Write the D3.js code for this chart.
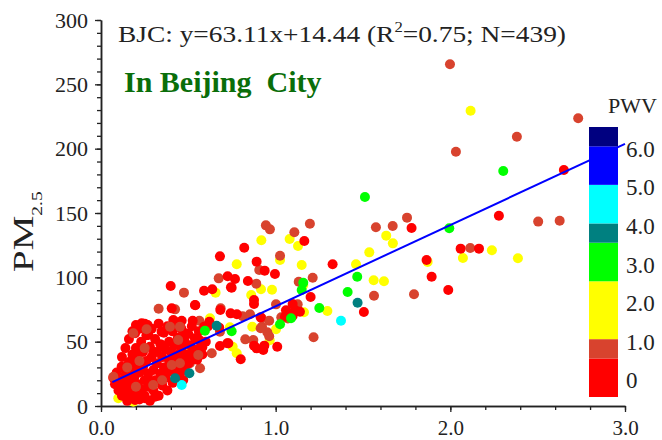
<!DOCTYPE html>
<html>
<head>
<meta charset="utf-8">
<script src="https://cdn.jsdelivr.net/npm/d3@7"></script>
<style>
  body { margin: 0; background: #fff; }
  svg { display: block; font-family: "Liberation Serif", "Times New Roman", serif; }
</style>
</head>
<body>
<svg id="chart" width="662" height="440"></svg>
<script>
'use strict';

// axis ticks
var xTicks = [0, 1, 2, 3];
var yTicks = [0, 50, 100, 150, 200, 250, 300];

// linear fit  y = 63.11x + 14.44
var fitSlope = 63.11;
var fitIntercept = 14.44;
var fitRange = [0.065, 3.0];

// PWV colour levels
var pwvBounds = [-0.5, 0.5, 1.0, 2.5, 3.5, 4.0, 5.0, 6.0, 6.5];
var pwvColors = ['#ff0000', '#d8432e', '#ffff00', '#00ff00', '#008080', '#00ffff', '#0000ff', '#000080'];
var pwvTicks = [0, 1, 2, 3, 4, 5, 6];

// points [AOD, PM2.5], grouped by PWV value
var ptsYellow = [[2.116,229.5],[2.238,121.0],[2.072,115.0],[2.387,114.8],[1.870,112.0],[1.633,132.4],[1.671,126.4],
  [1.536,119.4],[1.460,110.1],[1.561,97.7],[1.620,96.9],[1.162,72.8],[1.296,73.8],[1.149,109.6],[0.918,128.8],
  [1.080,129.8],[1.128,124.3],[1.025,113.5],[0.777,110.1],[0.916,90.7],[0.979,90.4],[0.656,88.1],[0.860,86.3],
  [0.624,68.2],[0.866,61.6],[1.002,59.6],[0.966,51.1],[0.754,46.1],[0.777,41.0],[0.738,61.2],[0.513,43.5],
  [0.099,6.0],[0.185,3.3],[0.509,44.1],[1.158,94.0]];
var ptsBrown = [[1.998,265.6],[2.732,223.6],[2.381,209.3],[2.032,197.6],[2.503,143.3],[2.626,144.0],[2.114,122.8],
  [1.792,86.8],[1.574,138.9],[1.670,139.9],[1.563,85.7],[1.196,141.7],[1.752,146.4],[1.212,99.7],[0.944,140.4],
  [0.967,137.3],[1.107,135.0],[1.025,116.8],[0.906,105.7],[0.674,99.2],[0.889,95.1],[1.132,96.6],[0.475,88.1],
  [1.002,79.0],[1.126,79.0],[1.032,68.9],[0.685,75.9],[0.811,69.7],[0.853,71.3],[0.963,66.3],[0.563,66.3],
  [0.922,61.6],[0.952,57.3],[0.963,54.2],[1.217,53.4],[0.826,51.8],[0.872,51.3],[0.681,57.8],[0.634,41.0],
  [0.914,60.4],[0.920,68.2],[0.330,75.6],[0.424,75.1],[0.611,63.0],[0.509,33.2],[0.567,29.3],[1.070,68.0]];
var ptsRed = [[2.278,147.9],[2.650,183.4],[2.059,122.3],[2.164,122.3],[1.893,100.5],[1.988,90.2],[1.864,113.5],
  [1.778,138.3],[1.326,110.1],[1.505,73.1],[1.164,128.2],[1.200,84.7],[0.820,123.0],[0.681,116.3],[0.891,112.2],
  [0.937,105.2],[0.996,102.6],[0.725,100.8],[0.767,98.7],[0.748,91.9],[0.841,97.1],[0.590,89.6],[0.637,90.7],
  [0.540,78.3],[0.876,82.4],[0.876,79.3],[1.059,74.4],[1.097,79.3],[1.105,73.1],[1.097,69.9],[0.683,74.6],
  [0.742,72.0],[0.778,71.3],[0.914,68.9],[0.462,66.3],[0.525,66.3],[0.612,61.9],[0.677,60.9],[0.723,48.7],
  [0.876,46.9],[0.935,46.9],[1.009,46.1],[0.681,46.6],[0.399,93.3],[0.563,51.3],[0.580,45.6],[0.729,48.7],
  [0.590,61.6],[0.620,65.5],[0.800,36.3],[0.891,44.8],[0.929,43.5],[1.053,69.4],[1.111,74.6],[1.139,73.3],
  [0.538,52.6],[0.405,75.9],[0.538,78.5],[0.744,92.3]];
var ptsRedCluster = [[0.07,22],[0.08,17],[0.09,26],[0.10,12],[0.11,20],[0.12,8],[0.12,30],[0.13,16],[0.14,24],
  [0.15,4],[0.15,11],[0.16,19],[0.16,34],[0.17,27],[0.17,7],[0.18,14],[0.18,40],[0.19,22],[0.19,31],[0.20,10],
  [0.20,45],[0.21,17],[0.21,36],[0.22,26],[0.22,5],[0.23,13],[0.23,50],[0.24,30],[0.24,42],[0.25,20],[0.25,8],
  [0.26,35],[0.26,55],[0.27,15],[0.27,25],[0.28,46],[0.28,4],[0.29,38],[0.29,60],[0.30,12],[0.30,28],[0.31,52],
  [0.31,20],[0.32,42],[0.32,33],[0.33,8],[0.33,64],[0.34,25],[0.34,48],[0.35,16],[0.35,38],[0.36,57],[0.36,30],
  [0.37,44],[0.37,22],[0.38,62],[0.38,12],[0.39,35],[0.39,50],[0.40,27],[0.40,42],[0.41,58],[0.41,18],[0.42,37],
  [0.42,47],[0.43,30],[0.43,65],[0.44,40],[0.44,53],[0.45,25],[0.46,45],[0.46,60],[0.47,35],[0.48,50],[0.48,28],
  [0.49,40],[0.50,56],[0.50,33],[0.51,47],[0.52,38],[0.52,62],[0.53,44],[0.54,52],[0.55,36],[0.56,58],[0.57,46],
  [0.58,40],[0.60,50],[0.12,38],[0.14,45],[0.16,52],[0.18,58],[0.20,63],[0.22,60],[0.25,64],[0.118,30.5],
  [0.176,35.8],[0.214,41.0],[0.299,42.2],[0.347,47.4],[0.233,64.3],[0.267,63.0],[0.195,56.5],[0.271,55.2],
  [0.347,57.8],[0.414,66.8],[0.481,56.5],[0.519,35.8],[0.405,28.0],[0.366,24.1],[0.471,20.2],[0.271,20.2],
  [0.347,17.6],[0.195,4.7],[0.252,6.0],[0.309,7.2]];
var ptsBrownCluster = [[0.071,22.8],[0.185,56.5],[0.261,59.6],[0.395,61.6],[0.452,61.6],[0.442,51.3],[0.299,16.3],
  [0.557,39.6],[0.405,31.9],[0.452,33.2],[0.15,30],[0.25,45],[0.35,20],[0.2,15],[0.22,35]];
var ptsGreen = [[2.303,182.6],[1.994,138.1],[1.511,162.4],[1.467,100.5],[1.412,88.6],[1.250,76.2],[1.158,95.8],
  [1.149,90.2],[1.088,68.2],[1.025,63.5],[0.748,58.1],[0.595,58.5]];
var ptsCyan = [[1.374,66.3],[0.462,16.3]];
var ptsTeal = [[1.469,80.3],[0.662,62.4],[0.424,21.5],[0.506,25.4]];

// PWV value of each group, in drawing order
var groupPts = [ptsYellow, ptsBrown, ptsRed, ptsRedCluster, ptsBrownCluster, ptsGreen, ptsCyan, ptsTeal];
var groupPwv = [1.8, 0.8, 0.3, 0.3, 0.8, 3.0, 4.5, 3.8];

var plot = {left: 101, right: 625, top: 20, bottom: 406};

document.addEventListener('DOMContentLoaded', function() {
    drawChart();
});

function drawChart() {
    var svg = d3.select('#chart');

    var x = d3.scaleLinear().domain([0, 3]).range([plot.left, plot.right]);
    var y = d3.scaleLinear().domain([0, 300]).range([plot.bottom, plot.top]);
    var color = d3.scaleThreshold().domain(pwvBounds.slice(1, -1)).range(pwvColors);

    // flatten groups into one list of points
    var points = [];
    groupPts.forEach(function(g, i) {
        g.forEach(function(p) { points.push({aod: p[0], pm: p[1], pwv: groupPwv[i]}); });
    });

    // minor ticks first, then major ticks with labels
    var xMinor = d3.range(0, 3.001, 0.2);
    var yMinor = d3.range(0, 301, 10);

    svg.append('g')
        .attr('transform', 'translate(0,' + plot.bottom + ')')
        .call(d3.axisBottom(x).tickValues(xMinor).tickSize(4).tickSizeOuter(0).tickFormat(''))
        .call(styleAxis);
    svg.append('g')
        .attr('transform', 'translate(0,' + plot.bottom + ')')
        .call(d3.axisBottom(x).tickValues(xTicks).tickSize(6).tickSizeOuter(0).tickPadding(8)
            .tickFormat(d3.format('.1f')))
        .call(styleAxis)
        .attr('font-size', 21);

    svg.append('g')
        .attr('transform', 'translate(' + plot.left + ',0)')
        .call(d3.axisLeft(y).tickValues(yMinor).tickSize(4).tickSizeOuter(0).tickFormat(''))
        .call(styleAxis);
    svg.append('g')
        .attr('transform', 'translate(' + plot.left + ',0)')
        .call(d3.axisLeft(y).tickValues(yTicks).tickSize(6).tickSizeOuter(0).tickPadding(7))
        .call(styleAxis);

    // scatter
    svg.append('g').selectAll('circle')
        .data(points)
        .enter().append('circle')
        .attr('cx', function(d) { return x(d.aod); })
        .attr('cy', function(d) { return y(d.pm); })
        .attr('r', 5)
        .attr('fill', function(d) { return color(d.pwv); });

    // fit line
    svg.append('path')
        .datum(fitRange)
        .attr('fill', 'none')
        .attr('stroke', '#0000ff')
        .attr('stroke-width', 2)
        .attr('d', d3.line()
            .x(function(d) { return x(d); })
            .y(function(d) { return y(fitSlope * d + fitIntercept); }));

    // colour bar
    var cb = d3.scaleLinear().domain([pwvBounds[0], pwvBounds[pwvBounds.length - 1]]).range([397, 127]);
    var bar = svg.append('g');
    bar.selectAll('rect')
        .data(pwvColors)
        .enter().append('rect')
        .attr('x', 589)
        .attr('width', 29)
        .attr('y', function(d, i) { return cb(pwvBounds[i + 1]); })
        .attr('height', function(d, i) { return cb(pwvBounds[i]) - cb(pwvBounds[i + 1]); })
        .attr('fill', function(d) { return d; });
    bar.selectAll('text')
        .data(pwvTicks)
        .enter().append('text')
        .attr('x', 626)
        .attr('y', function(d) { return cb(d) + 10.5; })
        .attr('font-size', 23)
        .attr('fill', '#222')
        .text(function(d) { return d === 0 ? '0' : d.toFixed(1); });
    bar.append('text')
        .attr('x', 608)
        .attr('y', 113)
        .attr('font-size', 22)
        .attr('fill', '#222')
        .text('PWV');

    // equation
    var eq = svg.append('text')
        .attr('x', 118)
        .attr('y', 42)
        .attr('font-size', 23)
        .attr('fill', '#222')
        .attr('textLength', 448)
        .attr('lengthAdjust', 'spacingAndGlyphs');
    eq.append('tspan').text('BJC: y=63.11x+14.44 (R');
    eq.append('tspan').attr('font-size', 14).attr('dy', -10).text('2');
    eq.append('tspan').attr('dy', 10).text('=0.75; N=439)');

    svg.append('text')
        .attr('x', 124)
        .attr('y', 92)
        .attr('font-size', 30)
        .attr('font-weight', 'bold')
        .attr('fill', '#0a6e0a')
        .style('white-space', 'pre')
        .text('In Beijing  City');

    // y-axis title, stretched along its reading direction like the original
    var yt = svg.append('text')
        .attr('transform', 'translate(33,272) rotate(-90) scale(1.3,1)')
        .attr('font-size', 30)
        .attr('fill', '#222');
    yt.append('tspan').text('PM');
    yt.append('tspan').attr('font-size', 15).attr('dy', 9).text('2.5');
}

function styleAxis(g) {
    g.attr('font-family', null).attr('font-size', 22);
    g.select('.domain').attr('stroke', '#222').attr('stroke-width', 1.5);
    g.selectAll('.tick line').attr('stroke', '#222').attr('stroke-width', 1.3);
    g.selectAll('.tick text').attr('fill', '#222');
}
</script>
</body>
</html>
